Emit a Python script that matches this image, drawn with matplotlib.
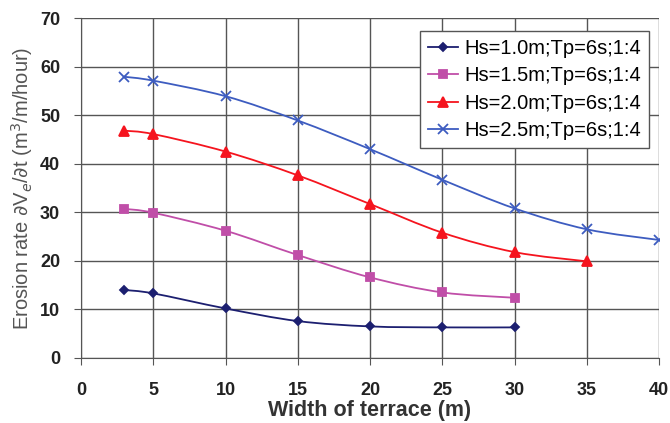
import numpy as np
import matplotlib.pyplot as plt
from matplotlib.path import Path
from matplotlib.patches import PathPatch

plt.rcParams['font.family'] = ['Liberation Sans', 'DejaVu Sans']

x_a = [3, 5, 10, 15, 20, 25, 30]
x_b = [3, 5, 10, 15, 20, 25, 30, 35]
x_c = [3, 5, 10, 15, 20, 25, 30, 35, 40]

hs10 = [14.0, 13.3, 10.2, 7.6, 6.5, 6.3, 6.3]
hs15 = [30.7, 29.9, 26.2, 21.2, 16.6, 13.5, 12.4]
hs20 = [46.8, 46.1, 42.5, 37.6, 31.7, 25.8, 21.8, 19.9]
hs25 = [57.9, 57.1, 53.9, 48.9, 43.0, 36.7, 30.8, 26.5, 24.3]

labels = ['Hs=1.0m;Tp=6s;1:4', 'Hs=1.5m;Tp=6s;1:4',
          'Hs=2.0m;Tp=6s;1:4', 'Hs=2.5m;Tp=6s;1:4']
colors = ['#1c1f70', '#c04ea8', '#f5141e', '#3d5cc0']
markers = ['D', 's', '^', 'x']
msizes = [4, 6, 7, 7]


def smooth_path(xs, ys, t=1/6):
    # Excel-like smoothed line as cubic bezier segments
    xs = np.asarray(xs, float)
    ys = np.asarray(ys, float)
    verts = [(xs[0], ys[0])]
    codes = [Path.MOVETO]
    n = len(xs)
    for i in range(n - 1):
        p0 = (xs[max(i - 1, 0)], ys[max(i - 1, 0)])
        p1 = (xs[i], ys[i])
        p2 = (xs[i + 1], ys[i + 1])
        p3 = (xs[min(i + 2, n - 1)], ys[min(i + 2, n - 1)])
        c1 = (p1[0] + (p2[0] - p0[0]) * t, p1[1] + (p2[1] - p0[1]) * t)
        c2 = (p2[0] - (p3[0] - p1[0]) * t, p2[1] - (p3[1] - p1[1]) * t)
        verts += [c1, c2, p2]
        codes += [Path.CURVE4] * 3
    return Path(verts, codes)


fig = plt.figure(figsize=(6.7, 4.23), dpi=100)
ax = fig.add_axes([0.121, 0.1537, 0.8626, 0.8037])

series = [(x_a, hs10), (x_a, hs15), (x_b, hs20), (x_c, hs25)]
for (xs, ys), lab, c, m, ms in zip(series, labels, colors, markers, msizes):
    ax.add_patch(PathPatch(smooth_path(xs, ys), facecolor='none',
                           edgecolor=c, lw=1.3, zorder=3))
    ax.plot(xs, ys, ls='none', marker=m, ms=ms, color=c, mew=1.3, zorder=4)
    ax.plot([], [], color=c, marker=m, ms=ms, lw=1.3, mew=1.3, label=lab)

ax.set_xlim(0, 40)
ax.set_ylim(0, 70)
ax.set_xticks(range(0, 41, 5))
ax.set_yticks(range(0, 71, 10))
ax.grid(True, color='#555555', lw=1.0)
ax.set_axisbelow(True)
for s in ['top', 'right']:
    ax.spines[s].set_visible(False)
for s in ['left', 'bottom']:
    ax.spines[s].set_color('#555555')
ax.tick_params(direction='out', length=5, color='#555555', labelsize=13)
ax.tick_params(axis='x', pad=12)
ax.tick_params(axis='y', pad=10)
for lbl in ax.get_xticklabels() + ax.get_yticklabels():
    lbl.set_fontweight('bold')
    lbl.set_color('#222222')

ax.set_xlabel('Width of terrace (m)', fontsize=15.5, fontweight='bold',
              color='#333333', labelpad=1)
ax.set_ylabel(r'Erosion rate $\partial$V$_e$/$\partial$t (m$^3$/m/hour)',
              fontsize=14.5, color='#555555', labelpad=4)

leg = ax.legend(loc='upper right', bbox_to_anchor=(0.983, 0.963), fontsize=14.5,
                frameon=True, fancybox=False, edgecolor='#555555',
                framealpha=1, handlelength=1.5, borderpad=0.4,
                labelspacing=0.42, handletextpad=0.3, borderaxespad=0)
leg.get_frame().set_linewidth(1.0)

fig.savefig('out.png', dpi=100)
